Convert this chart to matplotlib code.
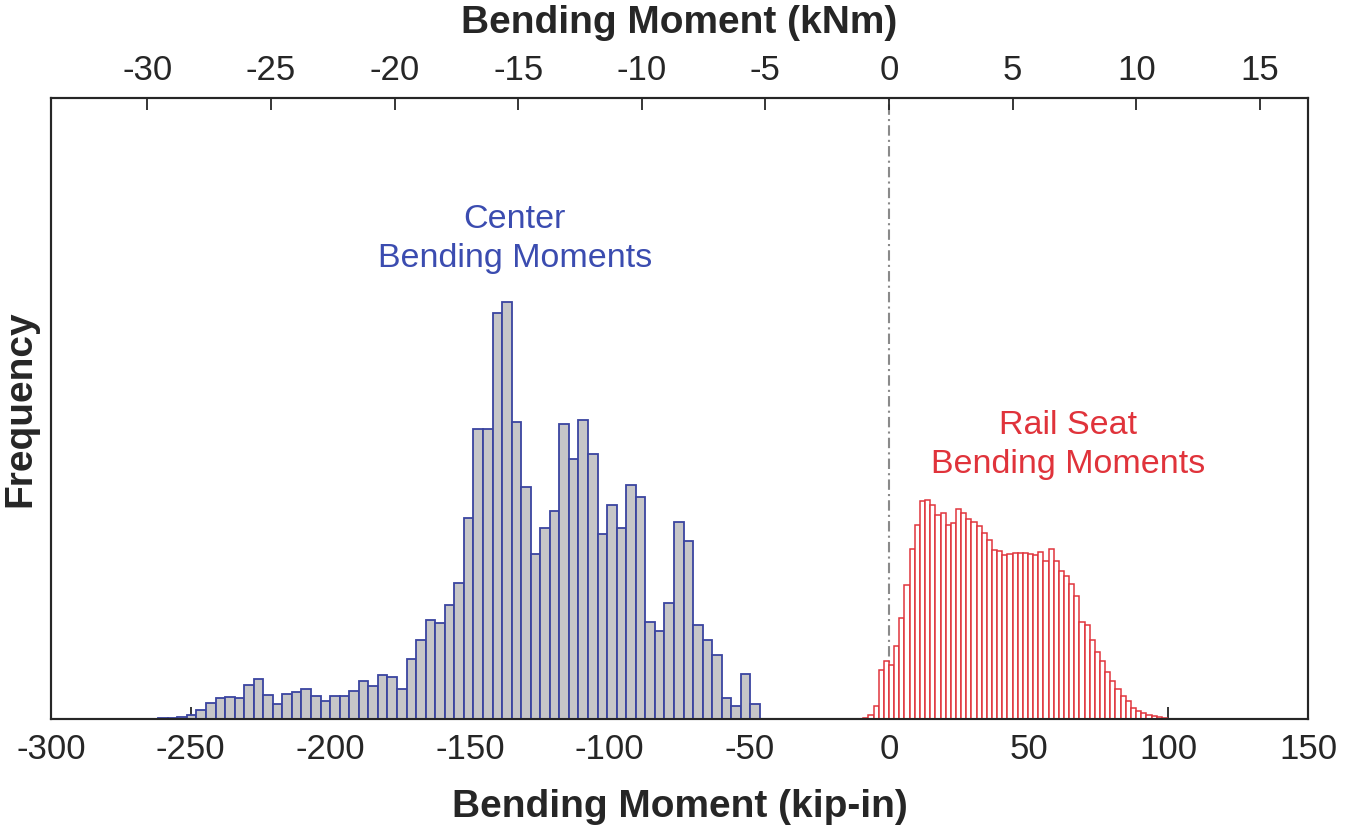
import matplotlib.pyplot as plt
import numpy as np

plt.rcParams['font.family'] = ['Liberation Sans', 'DejaVu Sans']
plt.rcParams['axes.unicode_minus'] = False

# center bending moments histogram (kip-in), counts in arbitrary units
center_lo, center_hi = -261.6, -46.2
center_counts = [1, 1, 2, 4, 9, 16, 21, 22, 21, 34, 40, 24, 15, 25, 27, 30,
                 23, 18, 23, 23, 28, 38, 33, 44, 42, 30, 60, 79, 99, 96, 114,
                 136, 201, 290, 290, 406, 417, 297, 232, 165, 191, 208, 295,
                 260, 299, 265, 185, 214, 191, 234, 222, 97, 88, 116, 197,
                 178, 94, 79, 64, 21, 13, 45, 15]

# rail seat bending moments histogram (kip-in)
rail_lo, rail_hi = -9.2, 99.5
rail_counts = [1, 4, 13, 49, 58, 54, 73, 101, 134, 170, 194, 218, 219, 214,
               204, 206, 194, 196, 210, 206, 200, 197, 193, 186, 179, 169,
               168, 164, 165, 166, 166, 166, 165, 164, 167, 158, 170, 158,
               148, 143, 135, 123, 97, 94, 79, 67, 58, 47, 38, 30, 23, 18,
               11, 8, 6, 4, 3, 1.5, 1]

KIPIN_PER_KNM = 8.8507
top_ticks = [-30, -25, -20, -15, -10, -5, 0, 5, 10, 15]
bottom_ticks = [-300, -250, -200, -150, -100, -50, 0, 50, 100, 150]

fig = plt.figure(figsize=(13.51, 8.36), dpi=100)
ax = fig.add_axes([0.0377, 0.140, 0.9305, 0.7428])

edges_c = np.linspace(center_lo, center_hi, len(center_counts) + 1)
ax.bar(edges_c[:-1], center_counts, width=np.diff(edges_c), align='edge',
       color='#c6c6c8', edgecolor='#3a44a0', linewidth=1.3, zorder=3)

edges_r = np.linspace(rail_lo, rail_hi, len(rail_counts) + 1)
ax.bar(edges_r[:-1], rail_counts, width=np.diff(edges_r), align='edge',
       color='white', edgecolor='#e0353d', linewidth=1.1, zorder=3)

ax.axvline(0, color='#8a8a8a', linestyle=(0, (5, 2, 1, 2)), linewidth=1.5, zorder=2)

ax.text(-134, 480, 'Center\nBending Moments', color='#3b4cb0', fontsize=24.5,
        ha='center', va='center', linespacing=1.35)
ax.text(64, 274, 'Rail Seat\nBending Moments', color='#e0333b', fontsize=24.5,
        ha='center', va='center', linespacing=1.35)

ax.set_xlim(-300, 150)
ax.set_ylim(0, 621)
ax.set_xticks(bottom_ticks)
ax.set_yticks([])
ax.tick_params(axis='x', direction='in', length=8.5, width=1.3,
               labelsize=25, colors='#262626', pad=10)
ax.set_xlabel('Bending Moment (kip-in)', fontsize=28, fontweight='bold',
              color='#262626', labelpad=17)
ax.set_ylabel('Frequency', fontsize=28, fontweight='bold', color='#262626',
              labelpad=9)

ax2 = ax.twiny()
ax2.set_xlim(-300 / KIPIN_PER_KNM, 150 / KIPIN_PER_KNM)
ax2.set_xticks(top_ticks)
ax2.tick_params(axis='x', direction='in', length=8.5, width=1.3,
                labelsize=25, colors='#262626', pad=8)
ax2.set_xlabel('Bending Moment (kNm)', fontsize=28, fontweight='bold',
               color='#262626', labelpad=15)

for a in (ax, ax2):
    for s in a.spines.values():
        s.set_color('#262626')
        s.set_linewidth(1.5)

plt.savefig('out.png', dpi=100)
